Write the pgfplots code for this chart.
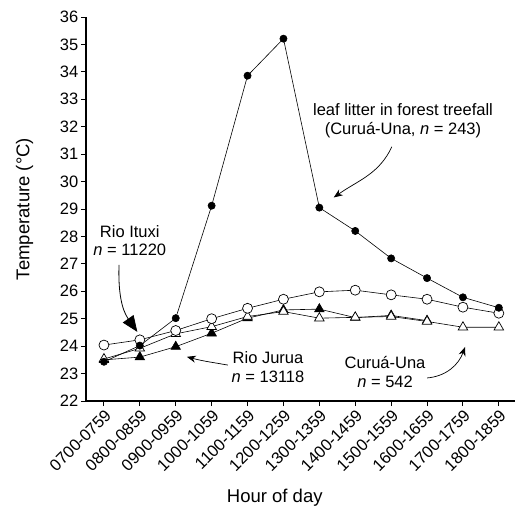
\documentclass[border=0pt]{standalone}
\usepackage{fontspec}
\setmainfont{Liberation Sans}
\usepackage{pgfplots}
\pgfplotsset{compat=1.18}
\usetikzlibrary{arrows.meta}
\begin{document}
\begin{tikzpicture}[x=1pt,y=1pt]
\useasboundingbox (-86,-108) rectangle (431,401);
\begin{axis}[
  at={(0,0)}, anchor=south west,
  scale only axis, width=429pt, height=384pt,
  xmin=-0.5, xmax=11.45, ymin=22, ymax=36,
  axis x line*=bottom, axis y line*=left,
  axis line style={black, line width=1.3pt},
  ytick={22,...,36},
  xtick={0,...,11},
  xticklabels={0700-0759,0800-0859,0900-0959,1000-1059,1100-1159,1200-1259,1300-1359,1400-1459,1500-1559,1600-1659,1700-1759,1800-1859},
  x tick label style={rotate=45, anchor=north east, inner sep=1.5pt},
  y tick label style={inner sep=2.5pt},
  tick align=outside,
  major tick length=5pt,
  tick style={black, line width=1pt},
  ticklabel style={font=\fontsize{16.5}{18}\selectfont},
  /pgf/number format/assume math mode=true,
  xlabel={Hour of day},
  ylabel={Temperature (°C)},
  label style={font=\fontsize{18.5}{20}\selectfont},
  xlabel style={at={(axis description cs:0.44,-0.252)}, anchor=center},
  ylabel style={at={(axis description cs:-0.143,0.5)}, anchor=center},
  clip=false,
]
% Rio Jurua (filled triangles)
\addplot[black, line width=0.6pt, mark=triangle*, mark size=5.5pt, mark options={fill=black, line width=0.6pt}] coordinates {
(0,23.50) (1,23.60) (2,23.98) (3,24.47) (4,25.02) (5,25.32) (6,25.35) (7,25.04) (8,25.12) (9,24.93)};
% Curua-Una (open triangles)
\addplot[black, line width=0.6pt, mark=triangle*, mark size=5.5pt, mark options={fill=white, line width=0.7pt}] coordinates {
(0,23.53) (1,23.92) (2,24.45) (3,24.71) (4,25.08) (5,25.26) (6,25.02) (7,25.05) (8,25.08) (9,24.90) (10,24.69) (11,24.69)};
% Rio Ituxi (open circles)
\addplot[black, line width=0.6pt, mark=*, mark size=5pt, mark options={fill=white, line width=0.7pt}] coordinates {
(0,24.04) (1,24.23) (2,24.57) (3,25.00) (4,25.38) (5,25.71) (6,25.98) (7,26.04) (8,25.87) (9,25.71) (10,25.42) (11,25.20)};
% leaf litter (filled circles)
\addplot[black, line width=0.6pt, mark=*, mark size=3.6pt, mark options={fill=black}] coordinates {
(0,23.43) (1,24.02) (2,25.02) (3,29.12) (4,33.86) (5,35.21) (6,29.05) (7,28.20) (8,27.20) (9,26.48) (10,25.78) (11,25.40)};

\node[align=center, font=\fontsize{16.5}{18.5}\selectfont] at (axis cs:8.33,32.22) {leaf litter in forest treefall\\(Curuá-Una, \textit{n} = 243)};
\draw[-{Stealth[length=9pt,width=7pt]}, line width=0.7pt] (axis cs:8.02,31.27) to[out=245,in=35] (axis cs:6.40,29.42);

\node[align=center, font=\fontsize{16.5}{18.5}\selectfont] at (axis cs:0.72,27.84) {Rio Ituxi\\\textit{n} = 11220};
\draw[-{Triangle[length=16pt,width=13pt]}, line width=0.8pt] (axis cs:0.42,26.96) to[out=-92,in=125] (axis cs:0.93,24.52);

\node[align=center, font=\fontsize{16.5}{18.5}\selectfont] at (axis cs:4.57,23.24) {Rio Jurua\\\textit{n} = 13118};
\draw[-{Stealth[length=9pt,width=7pt]}, line width=0.7pt] (axis cs:3.45,23.31) to[out=170,in=-15] (axis cs:2.31,23.61);

\node[align=center, font=\fontsize{16.5}{18.5}\selectfont] at (axis cs:7.83,23.06) {Curuá-Una\\\textit{n} = 542};
\draw[-{Stealth[length=9pt,width=7pt]}, line width=0.7pt] (axis cs:9.0,22.84) to[out=5,in=-110] (axis cs:10.06,23.97);
\end{axis}
\end{tikzpicture}
\end{document}
